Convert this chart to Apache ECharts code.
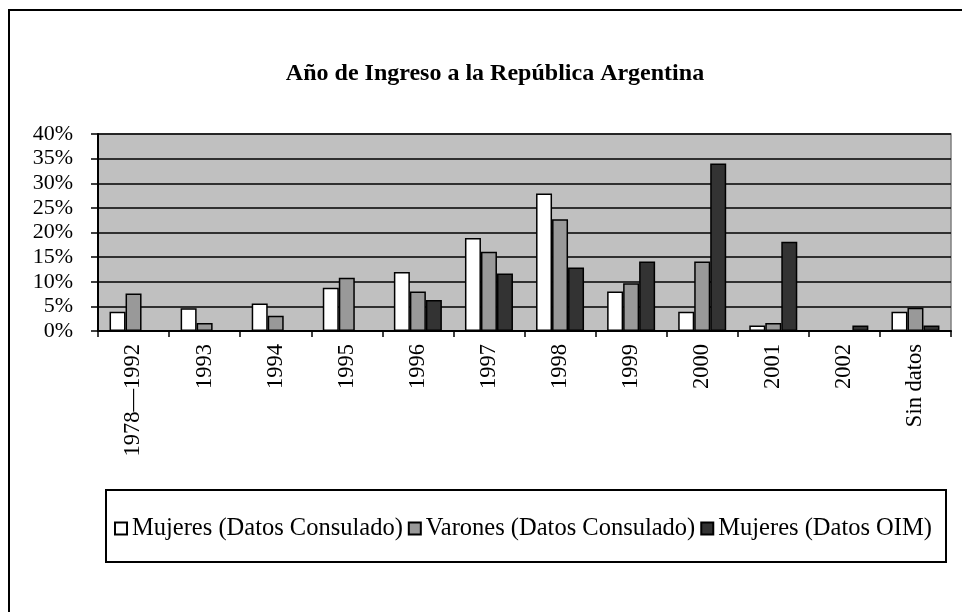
<!DOCTYPE html>
<html>
<head>
<meta charset="utf-8">
<script src="https://cdn.jsdelivr.net/npm/echarts@6/dist/echarts.min.js"></script>
<style>
  html, body { margin: 0; padding: 0; background: #fff; }
  #chart { width: 962px; height: 612px; }
</style>
</head>
<body>
<div id="chart"></div>
<script>
// categorias del eje x
var anios = ['1978—1992', '1993', '1994', '1995', '1996', '1997', '1998', '1999', '2000', '2001', '2002', 'Sin datos'];
// porcentajes
var mujeresConsulado = [3.9, 4.6, 5.6, 8.8, 12.0, 18.9, 27.9, 8.0, 3.9, 1.1, 0, 3.9];
var varonesConsulado = [7.6, 1.6, 3.1, 10.8, 8.0, 16.1, 22.7, 9.7, 14.1, 1.6, 0, 4.7];
var mujeresOIM = [0, 0, 0, 0, 6.3, 11.7, 12.9, 14.1, 34.0, 18.1, 1.1, 1.1];
var nombres = ['Mujeres (Datos Consulado)', 'Varones (Datos Consulado)', 'Mujeres (Datos OIM)'];

var fuente = '"Liberation Serif", "DejaVu Serif", serif';

var myChart = echarts.init(document.getElementById('chart'));

function serie(nombre, datos, color) {
    return {
        name: nombre,
        type: 'bar',
        data: datos,
        barWidth: 16,
        barGap: '0%',
        itemStyle: { color: color, borderColor: '#000', borderWidth: 1.5 }
    };
}

var option = {
    backgroundColor: '#fff',
    animation: false,
    //titulo
    title: {
        text: 'Año de Ingreso a la República Argentina',
        left: 490,
        top: 57,
        textAlign: 'center',
        textStyle: { fontFamily: fuente, fontSize: 24, fontWeight: 'bold', color: '#000' }
    },
    // marco exterior y caja de la leyenda
    graphic: [
        { type: 'rect', shape: { x: 9, y: 10, width: 980, height: 640 }, style: { fill: 'none', stroke: '#000', lineWidth: 2 }, z: 0 },
        { type: 'rect', shape: { x: 106, y: 490, width: 840, height: 72 }, style: { fill: '#fff', stroke: '#000', lineWidth: 2 }, z: 0 }
    ],
    legend: {
        data: nombres,
        left: 109,
        top: 511,
        itemWidth: 12,
        itemHeight: 12,
        itemGap: 5,
        icon: 'rect',
        textStyle: { fontFamily: fuente, fontSize: 24.5, color: '#000' },
        z: 5
    },
    grid: {
        left: 98,
        top: 134,
        right: 11,
        bottom: 281,
        show: true,
        backgroundColor: '#c0c0c0',
        borderColor: '#808080',
        borderWidth: 1.5
    },
    xAxis: {
        type: 'category',
        data: anios,
        axisLine: { lineStyle: { color: '#000', width: 2 } },
        axisTick: { show: true, length: 6, lineStyle: { color: '#000', width: 1.5 } },
        axisLabel: { rotate: 90, interval: 0, margin: 13, fontFamily: fuente, fontSize: 22.5, color: '#000' }
    },
    yAxis: {
        type: 'value',
        min: 0,
        max: 40,
        interval: 5,
        axisLine: { show: true, lineStyle: { color: '#000', width: 2 } },
        axisTick: { show: true, length: 7, lineStyle: { color: '#000', width: 1.5 } },
        axisLabel: { formatter: '{value}%', margin: 25, fontFamily: fuente, fontSize: 22, color: '#000' },
        splitLine: { show: true, lineStyle: { color: '#000', width: 1.5 } }
    },
    series: [
        serie(nombres[0], mujeresConsulado, '#ffffff'),
        serie(nombres[1], varonesConsulado, '#999999'),
        serie(nombres[2], mujeresOIM, '#333333')
    ]
};

myChart.setOption(option);
</script>
</body>
</html>
